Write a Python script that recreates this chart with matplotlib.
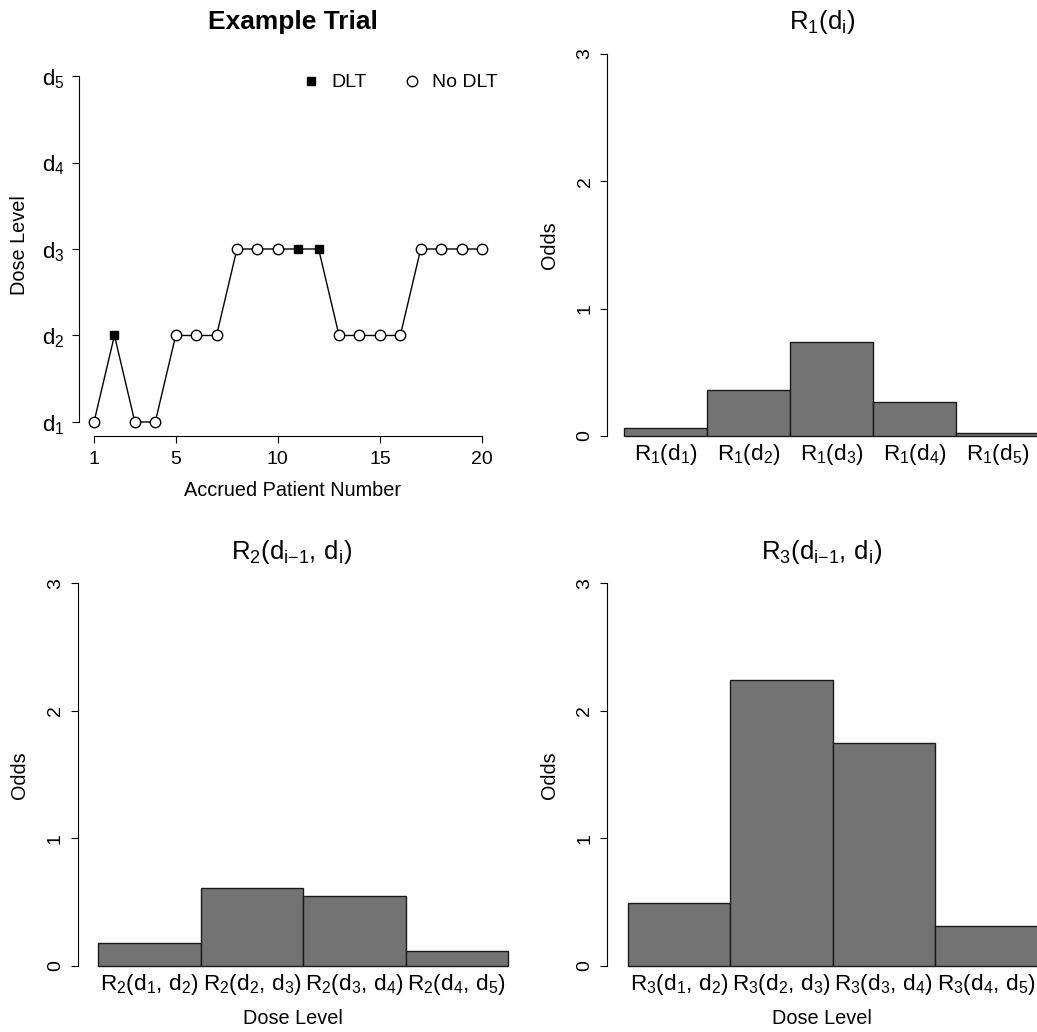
import matplotlib
matplotlib.use("Agg")
import matplotlib.pyplot as plt
from matplotlib.lines import Line2D
import numpy as np

plt.rcParams['font.family'] = ['Liberation Sans', 'DejaVu Sans']
plt.rcParams['mathtext.fontset'] = 'custom'
plt.rcParams['mathtext.rm'] = 'Liberation Sans'
plt.rcParams['mathtext.it'] = 'Liberation Sans:italic'

# ---- data ----
patients = np.arange(1, 21)
dose_level = [1, 2, 1, 1, 2, 2, 2, 3, 3, 3, 3, 3, 2, 2, 2, 2, 3, 3, 3, 3]
dlt = [0, 1, 0, 0, 0, 0, 0, 0, 0, 0, 1, 1, 0, 0, 0, 0, 0, 0, 0, 0]
dose_ticks = [1, 2, 3, 4, 5]
dose_labels = [r'$\mathrm{d_%d}$' % i for i in dose_ticks]
patient_ticks = [1, 5, 10, 15, 20]

r1_odds = [0.065, 0.36, 0.735, 0.265, 0.026]
r1_labels = [r'$\mathrm{R_1(d_%d)}$' % i for i in range(1, 6)]
r2_odds = [0.183, 0.614, 0.547, 0.115]
r2_labels = [r'$\mathrm{R_2(d_%d,\,d_%d)}$' % (i, i + 1) for i in range(1, 5)]
r3_odds = [0.494, 2.245, 1.75, 0.313]
r3_labels = [r'$\mathrm{R_3(d_%d,\,d_%d)}$' % (i, i + 1) for i in range(1, 5)]
odds_ticks = [0, 1, 2, 3]

W, H = 1037, 1032
fig = plt.figure(figsize=(W / 100, H / 100), dpi=100)


def box(l, r, t, b):
    return [l / W, 1 - b / H, (r - l) / W, (b - t) / H]


def ftext(x, y, s, **kw):
    fig.text(x / W, 1 - y / H, s, ha='center', va='center', **kw)


TICK = 14
LAB = 14.3
BARLAB = 16.2
TITLE = 18.5
BAR_GREY = '#737373'

# ---- Example trial ----
ax = fig.add_axes(box(78.5, 497.5, 62.2, 435.8))
ax.plot(patients, dose_level, color='black', lw=1, zorder=1)
dose_arr = np.array(dose_level)
dlt_arr = np.array(dlt, dtype=bool)
ax.plot(patients[~dlt_arr], dose_arr[~dlt_arr], 'o', ms=7.5, mfc='white',
        mec='black', mew=1, zorder=2)
ax.plot(patients[dlt_arr], dose_arr[dlt_arr], 's', ms=6.3, color='black', zorder=3)
ax.set_xlim(0.24, 20.76)
ax.set_ylim(0.84, 5.16)
ax.set_xticks(patient_ticks)
ax.set_yticks(dose_ticks)
ax.set_yticklabels(dose_labels, fontsize=16)
ax.tick_params(axis='x', labelsize=TICK, length=5, width=0.8, pad=6)
ax.tick_params(axis='y', length=5, width=0.8, pad=5)
for s in ['top', 'right']:
    ax.spines[s].set_visible(False)
ax.spines['left'].set_bounds(1, 5)
ax.spines['bottom'].set_bounds(1, 20)
handles = [Line2D([], [], marker='s', ls='none', color='black', ms=6.3),
           Line2D([], [], marker='o', ls='none', mfc='white', mec='black', ms=7.5)]
ax.legend(handles, ['DLT', 'No DLT'], ncol=2, frameon=False, loc='upper right',
          bbox_to_anchor=(1.019, 0.99), borderaxespad=0, fontsize=TICK,
          handlelength=1, handletextpad=0.55, columnspacing=1.8)
ftext(293, 22, 'Example Trial', fontsize=19, fontweight='bold')
ftext(293, 490, 'Accrued Patient Number', fontsize=LAB)
ftext(20, 245, 'Dose Level', fontsize=LAB, rotation=90)


def bar_panel(rect, values, labels, title, title_xy, ylab_xy, xlab_xy=None):
    ax = fig.add_axes(box(*rect))
    x = np.arange(len(values))
    ax.bar(x, values, width=1, align='edge', color=BAR_GREY, edgecolor='#1a1a1a', lw=1)
    ax.set_xlim(-0.2, len(values) + 0.2)
    ax.set_ylim(-0.12, 3.12)
    ax.set_yticks(odds_ticks)
    ax.set_yticklabels([str(t) for t in odds_ticks], rotation=90, va='center')
    ax.tick_params(axis='y', labelsize=TICK, length=5, width=0.8, pad=5)
    ax.set_xticks([])
    for s in ['top', 'right', 'bottom']:
        ax.spines[s].set_visible(False)
    ax.spines['left'].set_bounds(0, 3)
    for xi, lab in zip(x, labels):
        ax.annotate(lab, (xi + 0.5, 0), xytext=(0, -4), textcoords='offset points',
                    ha='center', va='top', fontsize=BARLAB)
    ftext(*title_xy, title, fontsize=TITLE)
    ftext(*ylab_xy, 'Odds', fontsize=LAB, rotation=90)
    if xlab_xy is not None:
        ftext(*xlab_xy, 'Dose Level', fontsize=LAB)
    return ax


bar_panel((607.4, 1055.6, 38.7, 451.3), r1_odds, r1_labels,
          r'$\mathrm{R_1(d_i)}$', (822, 22), (549, 245))
bar_panel((77.8, 528.4, 568, 981.3), r2_odds, r2_labels,
          r'$\mathrm{R_2(d_{i{-}1},\,d_i)}$', (292, 552), (20, 775), (293, 1019))
bar_panel((607.2, 1058, 568, 981.3), r3_odds, r3_labels,
          r'$\mathrm{R_3(d_{i{-}1},\,d_i)}$', (822, 552), (549, 775), (822, 1019))

fig.savefig('out.png', dpi=100)
